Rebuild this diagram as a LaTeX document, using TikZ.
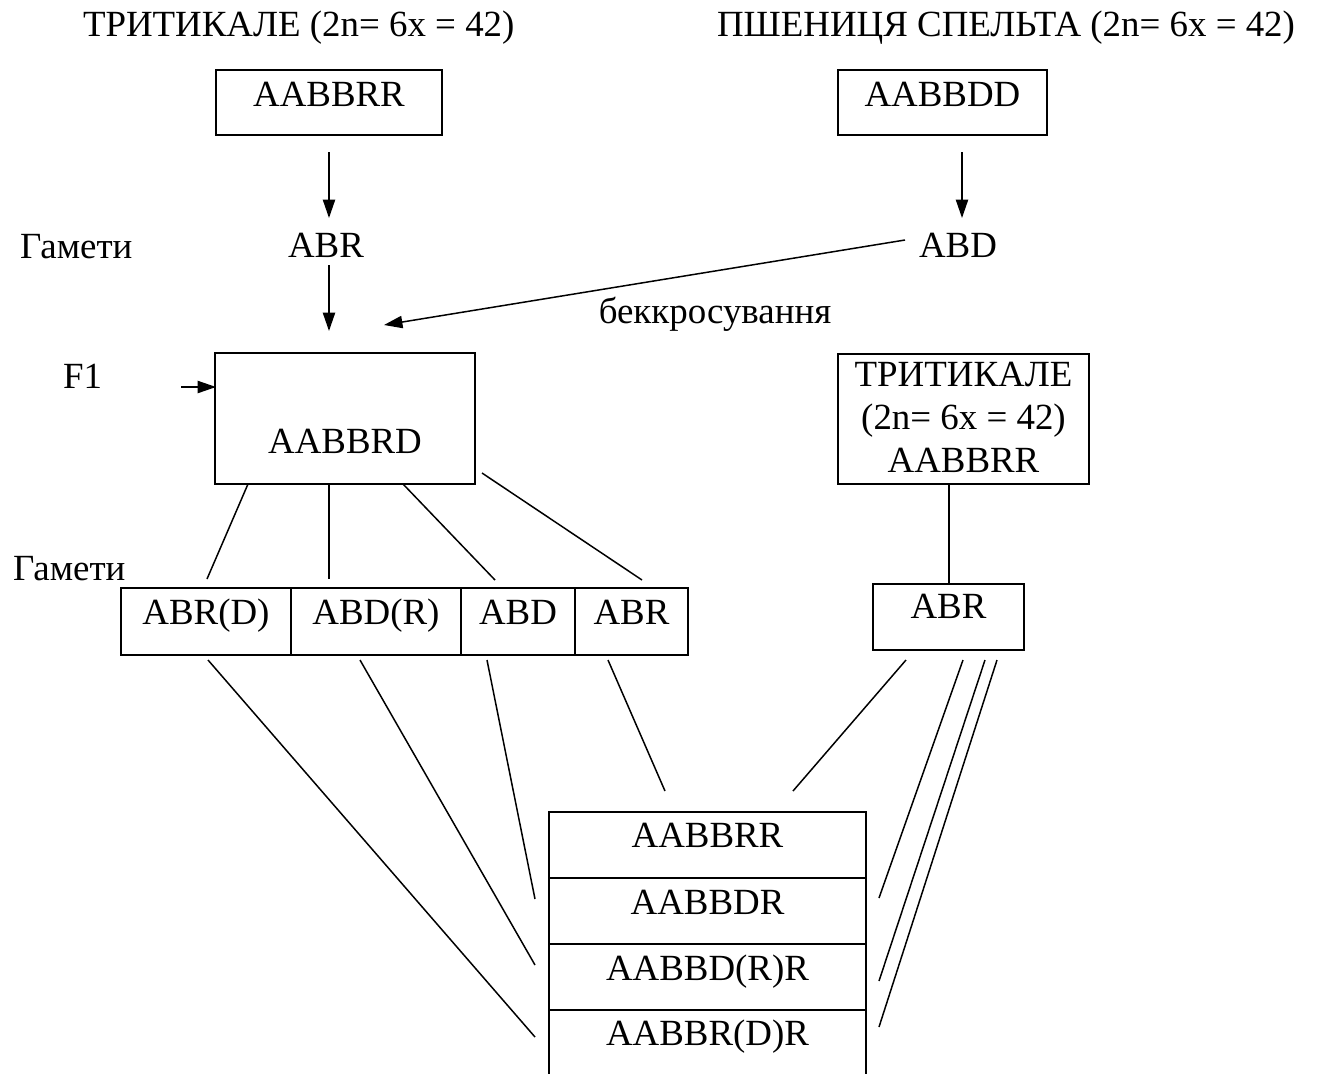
\documentclass[tikz,border=0pt]{standalone}
\usepackage{fontspec}
\setmainfont{Liberation Serif}
\usetikzlibrary{arrows.meta}
\begin{document}
\begin{tikzpicture}[x=0.02cm,y=-0.02cm,
  every node/.style={font=\fontsize{21}{24.5}\selectfont, inner sep=0pt, outer sep=0pt},
  box/.style={draw, line width=1.1pt, anchor=north west},
  lbl/.style={anchor=base},
  conn/.style={line width=0.85pt},
  arr/.style={conn, -{Triangle[length=10.5pt,width=7pt]}}
]
\useasboundingbox (0,0) rectangle (1323,1073);
\clip (0,0) rectangle (1323,1073);

% titles
\node[anchor=base west] (titleL) at (83,36) {ТРИТИКАЛЕ (2n= 6x = 42)};
\node[anchor=base west] (titleR) at (717,36) {ПШЕНИЦЯ СПЕЛЬТА (2n= 6x = 42)};

% parent boxes
\node[box, minimum width=4.52cm, minimum height=1.30cm] (p1) at (216,70) {};
\node[lbl] (p1t) at (329,106) {AABBRR};
\node[box, minimum width=4.18cm, minimum height=1.30cm] (p2) at (838,70) {};
\node[lbl] (p2t) at (942.5,106) {AABBDD};

% gametes row 1
\node[anchor=base west] (gam1) at (20,258) {Гамети};
\node[lbl] (gabr) at (326,257) {ABR};
\node[lbl] (gabd) at (958,257) {ABD};

\coordinate (a1s) at (329,152);
\coordinate (a1e) at (329,218);
\coordinate (a2s) at (962,152);
\coordinate (a2e) at (962,218);
\draw[arr] (a1s) -- (a1e);
\draw[arr] (a2s) -- (a2e);

\coordinate (a3s) at (329,265);
\coordinate (a3e) at (329,331);
\draw[arr] (a3s) -- (a3e);

\coordinate (bcs) at (905,240);
\coordinate (bce) at (384,325);
\draw[arr] (bcs) -- (bce);
\node[lbl] (bc) at (715,323) {беккросування};

% F1
\node[anchor=base west] (f1l) at (63,388) {F1};
\node[box, minimum width=5.20cm, minimum height=2.62cm] (f1) at (215,353) {};
\node[lbl] (f1t) at (345,453) {AABBRD};
\coordinate (f1a) at (181,387);
\coordinate (f1b) at (216,387);
\draw[arr] (f1a) -- (f1b);

% right triticale box
\node[box, minimum width=5.02cm, minimum height=2.60cm] (t2) at (838,354) {};
\node[lbl] (t2a) at (963.5,386) {ТРИТИКАЛЕ};
\node[lbl] (t2b) at (963.5,429) {(2n= 6x = 42)};
\node[lbl] (t2c) at (963.5,472) {AABBRR};

\node[box, minimum width=3.02cm, minimum height=1.32cm] (gr) at (873,584) {};
\node[lbl] (grt) at (948.5,618) {ABR};
\coordinate (t2s) at (949,484);
\coordinate (grn) at (949,584);
\draw[conn] (t2s) -- (grn);

% gametes row 2
\node[anchor=base west] (gam2) at (13,580) {Гамети};
\node[box, minimum width=3.40cm, minimum height=1.34cm] (c1) at (121,588) {};
\node[box, minimum width=3.40cm, minimum height=1.34cm] (c2) at (291,588) {};
\node[box, minimum width=2.28cm, minimum height=1.34cm] (c3) at (461,588) {};
\node[box, minimum width=2.26cm, minimum height=1.34cm] (c4) at (575,588) {};
\node[lbl] (c1t) at (206,624) {ABR(D)};
\node[lbl] (c2t) at (376,624) {ABD(R)};
\node[lbl] (c3t) at (518,624) {ABD};
\node[lbl] (c4t) at (631.5,624) {ABR};

% F1 -> gametes
\coordinate (f1s1) at (248,484); \coordinate (g1) at (207,579);
\coordinate (f1s2) at (329,484); \coordinate (g2) at (329,579);
\coordinate (f1s3) at (403,484); \coordinate (g3) at (495,580);
\coordinate (f1s4) at (482,473); \coordinate (g4) at (642,580);
\draw[conn] (f1s1) -- (g1);
\draw[conn] (f1s2) -- (g2);
\draw[conn] (f1s3) -- (g3);
\draw[conn] (f1s4) -- (g4);

% bottom box
\node[box, minimum width=6.34cm, minimum height=1.32cm] (b1) at (549,812) {};
\node[box, minimum width=6.34cm, minimum height=1.32cm] (b2) at (549,878) {};
\node[box, minimum width=6.34cm, minimum height=1.32cm] (b3) at (549,944) {};
\node[box, minimum width=6.34cm, minimum height=1.80cm] (b4) at (549,1010) {};
\node[lbl] (b1t) at (707.5,847) {AABBRR};
\node[lbl] (b2t) at (707.5,914) {AABBDR};
\node[lbl] (b3t) at (707.5,980) {AABBD(R)R};
\node[lbl] (b4t) at (707.5,1045) {AABBR(D)R};

% gametes -> bottom
\coordinate (s1) at (208,660); \coordinate (e1) at (535,1037);
\coordinate (s2) at (360,660); \coordinate (e2) at (535,965);
\coordinate (s3) at (487,660); \coordinate (e3) at (535,899);
\coordinate (s4) at (608,660); \coordinate (e4) at (665,791);
\coordinate (r1) at (906,660); \coordinate (q1) at (793,791);
\coordinate (r2) at (963,660); \coordinate (q2) at (879,898);
\coordinate (r3) at (985,660); \coordinate (q3) at (879,981);
\coordinate (r4) at (997,660); \coordinate (q4) at (879,1027);
\draw[conn] (s1) -- (e1);
\draw[conn] (s2) -- (e2);
\draw[conn] (s3) -- (e3);
\draw[conn] (s4) -- (e4);
\draw[conn] (r1) -- (q1);
\draw[conn] (r2) -- (q2);
\draw[conn] (r3) -- (q3);
\draw[conn] (r4) -- (q4);
\end{tikzpicture}
\end{document}
